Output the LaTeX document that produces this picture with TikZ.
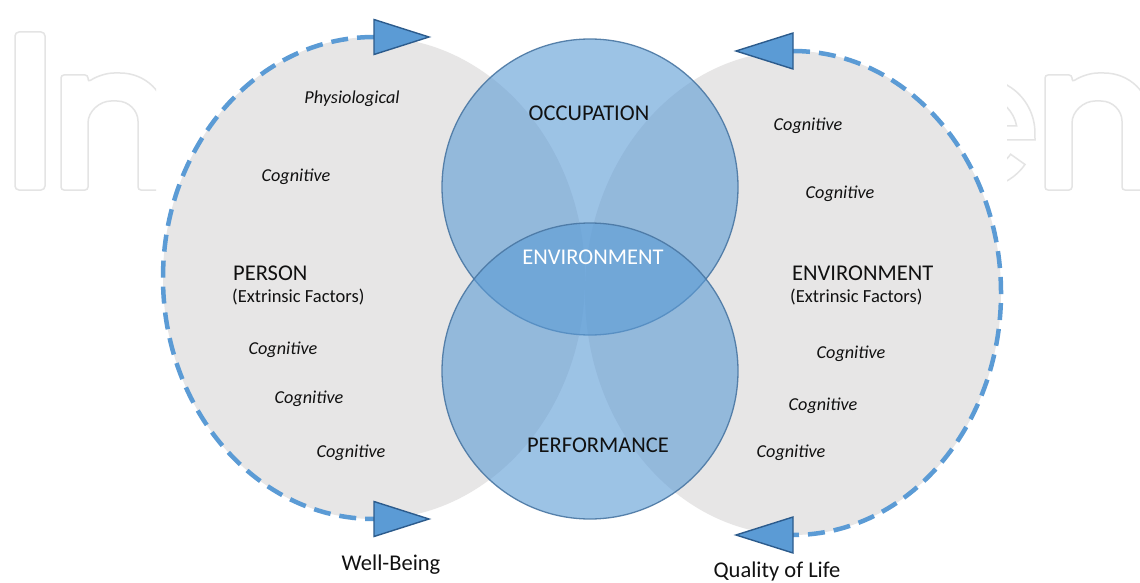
\documentclass[tikz,border=0pt]{standalone}
\usepackage{fontspec}
\setmainfont{Carlito}
\usetikzlibrary{shapes.geometric}
\definecolor{gfill}{HTML}{E7E6E6}
\definecolor{bfill}{HTML}{5B9BD5}
\definecolor{bedge}{HTML}{4A77A3}
\definecolor{trifill}{HTML}{5B9BD5}
\definecolor{triedge}{HTML}{2C5B8C}
\definecolor{wmark}{HTML}{E4E4E4}
\definecolor{txt}{HTML}{111111}
\begin{document}
\begin{tikzpicture}[x=1pt,y=-1pt,
  body/.style={ellipse, fill=gfill, draw=none, inner sep=0pt, outer sep=0pt},
  bluecirc/.style={circle, fill=bfill, fill opacity=0.6, draw=bedge, draw opacity=0.9, line width=1.3pt, minimum size=296pt, inner sep=0pt, outer sep=0pt},
  dashline/.style={draw=bfill, line width=4.5pt, dash pattern=on 17pt off 9pt},
  tri/.style={fill=trifill, draw=triedge, line width=1.4pt, line join=miter},
  wm/.style={draw=wmark, line width=1.5pt},
  big/.style={text=txt, font=\fontsize{22.5}{26}\selectfont, anchor=base, inner sep=0pt},
  sub/.style={text=txt, font=\fontsize{18.5}{22}\selectfont, anchor=base, inner sep=0pt},
  ital/.style={text=txt, font=\fontsize{18.2}{22}\selectfont\itshape, anchor=base, inner sep=0pt}]
\useasboundingbox (0,0) rectangle (1140,583);
\fill[white] (0,0) rectangle (1140,583);

% watermark (left part)
\begin{scope}
\clip (0,0) rectangle (156,583);
\draw[wm, rounded corners=4pt] (15,32) rectangle (45,190);
\draw[wm, rounded corners=3pt] (61,190) -- (61,75) -- (88,75) -- (88,82)
  .. controls (97,76) and (107,73) .. (117,73)
  .. controls (145,73) and (166,92) .. (166,122) -- (166,190) -- (138,190) -- (138,124)
  .. controls (138,111) and (129,101) .. (114,101)
  .. controls (100,101) and (88,111) .. (88,126) -- (88,190) -- cycle;
\end{scope}
% watermark (right part)
\begin{scope}
\clip (1007,0) rectangle (1140,583);
\draw[wm] (1025,164.5) arc[start angle=-35, end angle=-360, radius=55pt]
  -- (1035,140) -- (944,140) arc[start angle=190.9, end angle=325, radius=37pt] -- cycle;
\draw[wm] (944,126) arc[start angle=169.1, end angle=10.9, radius=37pt] -- cycle;
\begin{scope}[xshift=984pt]
\draw[wm, rounded corners=3pt] (61,190) -- (61,75) -- (88,75) -- (88,82)
  .. controls (97,76) and (107,73) .. (117,73)
  .. controls (145,73) and (166,92) .. (166,122) -- (166,190) -- (138,190) -- (138,124)
  .. controls (138,111) and (129,101) .. (114,101)
  .. controls (100,101) and (88,111) .. (88,126) -- (88,190) -- cycle;
\end{scope}
\end{scope}

% grey bodies
\node[body, minimum width=422pt, minimum height=482pt] (lbody) at (374,278) {};
\node[body, minimum width=416pt, minimum height=484pt] (rbody) at (793,293) {};

% blue circles
\node[bluecirc] (occ) at (590,187) {};
\node[bluecirc] (perf) at (590,371) {};

% dashed arcs with arrow heads
\draw[dashline] (lbody.north) arc[start angle=90, end angle=270, x radius=211pt, y radius=241pt];
\draw[dashline] (rbody.north) arc[start angle=90, end angle=-90, x radius=208pt, y radius=242pt];
\draw[tri] (lbody.north) ++(0,-17.5) -- ++(55,17.5) -- ++(-55,17.5) -- cycle;
\draw[tri] (lbody.south) ++(0,-17.5) -- ++(55,17.5) -- ++(-55,17.5) -- cycle;
\draw[tri] (rbody.north) ++(0,-18) -- ++(-57,18) -- ++(57,18) -- cycle;
\draw[tri] (rbody.south) ++(0,-18) -- ++(-57,18) -- ++(57,18) -- cycle;

% centre labels
\node[big] (occT) at (589,121) {OCCUPATION};
\node[big, text=white] (envT) at (593,264) {ENVIRONMENT};
\node[big] (perfT) at (598,452) {PERFORMANCE};

% left body labels
\node[ital] (l1) at (352,104) {Physiological};
\node[ital] (l2) at (296,181) {Cognitive};
\node[big, anchor=base west] (personT) at (233,280) {PERSON};
\node[sub, anchor=base west] (pext) at (232,302) {(Extrinsic Factors)};
\node[ital] (l3) at (283,354) {Cognitive};
\node[ital] (l4) at (309,403) {Cognitive};
\node[ital] (l5) at (351,457) {Cognitive};

% right body labels
\node[ital] (r1) at (808,131) {Cognitive};
\node[ital] (r2) at (840,198) {Cognitive};
\node[big, anchor=base west] (envR) at (792,280) {ENVIRONMENT};
\node[sub, anchor=base west] (rext) at (790,302) {(Extrinsic Factors)};
\node[ital] (r3) at (851,358) {Cognitive};
\node[ital] (r4) at (823,410) {Cognitive};
\node[ital] (r5) at (791,457) {Cognitive};

% outcome labels
\node[big] (wb) at (391,570) {Well-Being};
\node[big] (qol) at (777,577) {Quality of Life};
\end{tikzpicture}
\end{document}
